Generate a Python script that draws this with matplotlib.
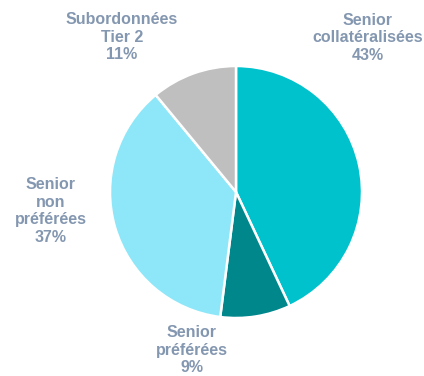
import numpy as np
import matplotlib.pyplot as plt

plt.rcParams['font.family'] = ['Liberation Sans', 'DejaVu Sans']

# Répartition des émissions
categories = ['Senior\ncollatéralisées', 'Senior\npréférées', 'Senior\nnon\npréférées', 'Subordonnées\nTier 2']
parts = [43, 9, 37, 11]
colors = ['#00C2CC', '#00878C', '#8EE7F8', '#BFBFBF']

# position des étiquettes (pixels)
label_pos = [(368, 38), (192, 350), (51, 211), (122, 37)]

W, H = 424, 376
fig = plt.figure(figsize=(W / 100, H / 100), dpi=100)
ax = fig.add_axes([0, 0, 1, 1])

cx, cy, r = 236, H - 192, 126
ax.pie(parts, colors=colors, startangle=90, counterclock=False, radius=r, center=(cx, cy),
       wedgeprops=dict(edgecolor='white', linewidth=1.8), frame=True)
ax.set_xlim(0, W)
ax.set_ylim(0, H)
ax.set_aspect('equal')
ax.axis('off')

for cat, p, (x, y) in zip(categories, parts, label_pos):
    ax.text(x, H - y, f'{cat}\n{p}%', ha='center', va='center', fontsize=11.5,
            fontweight='bold', color='#8497B0', linespacing=1.2)

fig.savefig('out.png', dpi=100)
